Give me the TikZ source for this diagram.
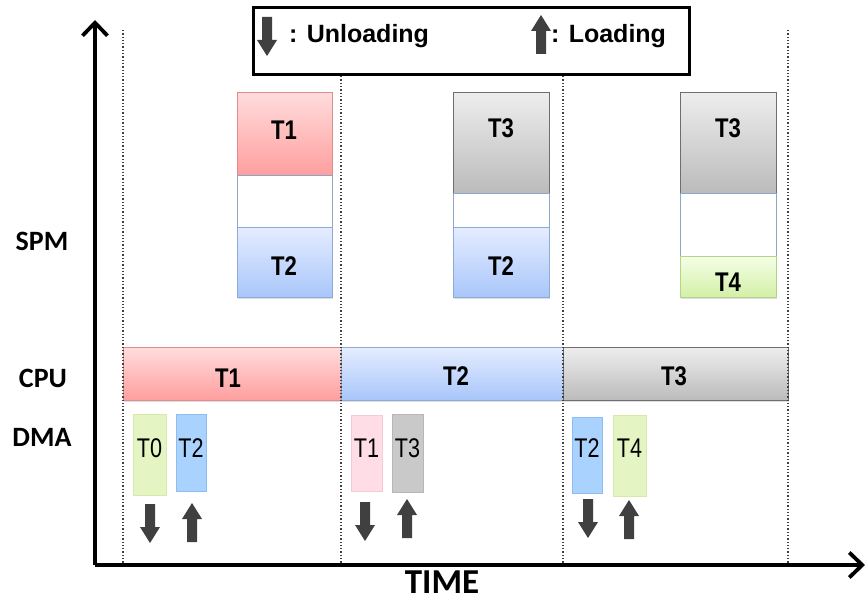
\documentclass[tikz,border=0pt]{standalone}
\usepackage{fontspec}
\setmainfont{Liberation Sans}
\newfontfamily\carfont{Carlito}
\usetikzlibrary{arrows.meta,shadows}

% box colours (top / bottom of the gradient, and outline)
\definecolor{redtop}{HTML}{FFDCDC}
\definecolor{redbot}{HTML}{FF9E9E}
\definecolor{redline}{HTML}{E08A8A}
\definecolor{bluetop}{HTML}{E4ECFF}
\definecolor{bluebot}{HTML}{A8C6FA}
\definecolor{blueline}{HTML}{8EAAD6}
\definecolor{graytop}{HTML}{EDEDED}
\definecolor{graybot}{HTML}{BBBBBB}
\definecolor{grayline}{HTML}{6E6E6E}
\definecolor{greentop}{HTML}{F4FFE4}
\definecolor{greenbot}{HTML}{D2EFA6}
\definecolor{greenline}{HTML}{B3D48A}
\definecolor{emptyline}{HTML}{8CA6C8}
% flat DMA transfer colours
\definecolor{dmagreen}{HTML}{E4F5C3}
\definecolor{dmagreenl}{HTML}{D3EAA9}
\definecolor{dmablue}{HTML}{AAD2FF}
\definecolor{dmabluel}{HTML}{8EBDF2}
\definecolor{dmapink}{HTML}{FFDDE7}
\definecolor{dmapinkl}{HTML}{F7C9D7}
\definecolor{dmagray}{HTML}{C9C9C9}
\definecolor{dmagrayl}{HTML}{B7B7B7}
\definecolor{arrowgray}{HTML}{404040}

\begin{document}
\begin{tikzpicture}[x=1pt,y=-1pt,
  blk/.style={rectangle, draw, line width=1pt, inner sep=0pt, outer sep=0pt, anchor=north west},
  shad/.style={drop shadow={opacity=0.25, shadow xshift=1pt, shadow yshift=-1.5pt}},
  redbox/.style={blk, shad, draw=redline, top color=redtop, bottom color=redbot},
  bluebox/.style={blk, shad, draw=blueline, top color=bluetop, bottom color=bluebot},
  graybox/.style={blk, shad, draw=grayline, top color=graytop, bottom color=graybot},
  greenbox/.style={blk, shad, draw=greenline, top color=greentop, bottom color=greenbot},
  emptybox/.style={blk, draw=emptyline, fill=white},
  dmabox/.style={rectangle, line width=1pt, inner sep=0pt, anchor=north west},
  tlabel/.style={inner sep=0pt, xscale=0.82, font=\fontsize{27}{27}\selectfont\bfseries},
  dlabel/.style={inner sep=0pt, xscale=0.8, font=\fontsize{27}{27}\selectfont},
  lane/.style={inner sep=0pt, font=\carfont\bfseries\fontsize{28}{28}\selectfont},
  axis/.style={line width=3.8pt, -{Straight Barb[length=13pt,width=25pt,line width=3.8pt]}},
  tick/.style={dotted, line width=1.3pt, black!75},
  darr/.pic={\fill[arrowgray] (-5,0) -- (5,0) -- (5,23) -- (10,23) -- (0,39) -- (-10,23) -- (-5,23) -- cycle;},
  uarr/.pic={\fill[arrowgray] (-5,39) -- (5,39) -- (5,16) -- (10,16) -- (0,0) -- (-10,16) -- (-5,16) -- cycle;}
]
\useasboundingbox (0,0) rectangle (867,601);

% axes
\coordinate (o) at (95,565);
\coordinate (ytip) at (95,20);
\coordinate (xtip) at (865,565);

% period boundaries
\foreach \i/\x in {1/123,2/341,3/563,4/788}{
  \coordinate (bt\i) at (\x,30);
  \coordinate (bb\i) at (\x,565);
}

% lane names
\node[lane] (spm) at (42,241) {SPM};
\node[lane] (cpu) at (43,378) {CPU};
\node[lane] (dma) at (42,437) {DMA};

% CPU execution
\node[redbox,  minimum width=218, minimum height=52] (c1) at (123,348) {};
\node[bluebox, minimum width=222, minimum height=52] (c2) at (341,348) {};
\node[graybox, minimum width=225, minimum height=52] (c3) at (563,348) {};
\node[tlabel] (c1t) at (228,378) {T1};
\node[tlabel] (c2t) at (456,376) {T2};
\node[tlabel] (c3t) at (674,376) {T3};

% SPM contents, first period
\node[redbox,   minimum width=95, minimum height=83] (s1a) at (237,93) {};
\node[emptybox, minimum width=95, minimum height=52] (s1b) at (237,176) {};
\node[bluebox,  minimum width=95, minimum height=70] (s1c) at (237,228) {};
\node[tlabel] (s1at) at (284,130) {T1};
\node[tlabel] (s1ct) at (284,266) {T2};

% SPM contents, second period
\node[graybox,  minimum width=96, minimum height=101] (s2a) at (453,93) {};
\node[emptybox, minimum width=96, minimum height=34]  (s2b) at (453,194) {};
\node[bluebox,  minimum width=96, minimum height=70]  (s2c) at (453,228) {};
\node[tlabel] (s2at) at (501,128) {T3};
\node[tlabel] (s2ct) at (501,266) {T2};

% SPM contents, third period
\node[graybox,  minimum width=96, minimum height=101] (s3a) at (680,93) {};
\node[emptybox, minimum width=96, minimum height=63]  (s3b) at (680,194) {};
\node[greenbox, minimum width=96, minimum height=41]  (s3c) at (680,257) {};
\node[tlabel] (s3at) at (728,128) {T3};
\node[tlabel] (s3ct) at (728,282) {T4};

% DMA transfers
\node[dmabox, fill=dmagreen, draw=dmagreenl, minimum width=33, minimum height=81] (d1) at (133,414) {};
\node[dmabox, fill=dmablue,  draw=dmabluel,  minimum width=30, minimum height=77] (d2) at (176,414) {};
\node[dmabox, fill=dmapink,  draw=dmapinkl,  minimum width=31, minimum height=76] (d3) at (351,415) {};
\node[dmabox, fill=dmagray,  draw=dmagrayl,  minimum width=31, minimum height=78] (d4) at (392,414) {};
\node[dmabox, fill=dmablue,  draw=dmabluel,  minimum width=30, minimum height=76] (d5) at (572,417) {};
\node[dmabox, fill=dmagreen, draw=dmagreenl, minimum width=33, minimum height=81] (d6) at (613,415) {};
\node[dlabel] (d1t) at (149.5,448) {T0};
\node[dlabel] (d2t) at (191,448) {T2};
\node[dlabel] (d3t) at (366.5,448) {T1};
\node[dlabel] (d4t) at (407.5,448) {T3};
\node[dlabel] (d5t) at (587,448) {T2};
\node[dlabel] (d6t) at (629.5,448) {T4};

% unloading / loading arrows
\pic at (150,504) {darr};
\pic at (192,503) {uarr};
\pic at (365,502) {darr};
\pic at (407,499) {uarr};
\pic at (588,499) {darr};
\pic at (629,500) {uarr};

% period boundaries drawn over the bars
\foreach \i in {1,...,4}{ \draw[tick] (bt\i) -- (bb\i); }

% legend
\node[rectangle, draw, line width=3pt, fill=white, minimum width=436, minimum height=67, anchor=north west, inner sep=0pt] (legend) at (252,6) {};
\pic at (267,17) {darr};
\pic at (541,15) {uarr};
\node[anchor=west, inner sep=0pt, font=\fontsize{25}{25}\selectfont\bfseries] (unl) at (289,36) {: Unloading};
\node[anchor=west, inner sep=0pt, font=\fontsize{25}{25}\selectfont\bfseries] (lod) at (551,36) {: Loading};

% axes on top
\draw[axis] (o) -- (ytip);
\draw[axis] (o) -- (xtip);
\node[inner sep=0pt, font=\carfont\bfseries\fontsize{35}{35}\selectfont] (time) at (442,582) {TIME};
\end{tikzpicture}
\end{document}
